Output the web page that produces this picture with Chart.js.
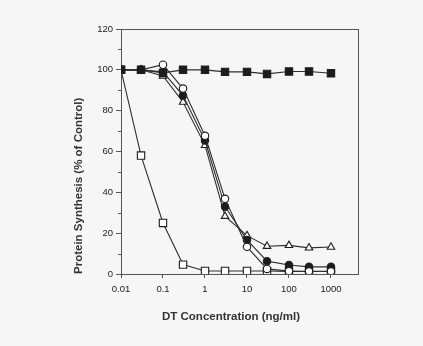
<!DOCTYPE html>
<html>
<head>
<meta charset="utf-8">
<script src="https://cdn.jsdelivr.net/npm/chart.js@4/dist/chart.umd.min.js"></script>
<style>
  html, body { margin: 0; padding: 0; background: #f6f6f6; }
  #wrap { width: 423px; height: 346px; }
</style>
</head>
<body>
<div id="wrap"><canvas id="c" width="423" height="346"></canvas></div>
<script>
// DT concentrations (ng/ml)
const concentrations = [0.01, 0.03, 0.1, 0.3, 1, 3, 10, 30, 100, 300, 1000];
// Protein synthesis (% of control)
const filledSquares   = [100, 100, 98.5, 100, 100, 99, 99, 98, 99.2, 99.2, 98.3];
const openCircles     = [100, 100, 102.5, 90.8, 67.7, 36.8, 13.3, 2.5, 1.4, 1.3, 1.3];
const filledCircles   = [100, 100, 99, 87.4, 65.4, 33, 16.7, 6.3, 4.4, 3.5, 3.5];
const openTriangles   = [100, 100, 97, 84.2, 63, 28.3, 18.8, 13.6, 14, 12.8, 13.2];
const openSquares     = [100, 58, 25, 4.6, 1.5, 1.5, 1.5, 1.5, 1.3, 1.2, 1.2];
const xTickValues = [0.01, 0.1, 1, 10, 100, 1000];
const xTickLabels = ['0.01', '0.1', '1', '10', '100', '1000'];
const yMajorTicks = [0, 20, 40, 60, 80, 100, 120];
const yMinorTicks = [10, 30, 50, 70, 90, 110];
const xTitle = 'DT Concentration (ng/ml)';
const yTitle = 'Protein Synthesis (% of Control)';

const toPts = arr => concentrations.map((x, i) => ({x: x, y: arr[i]}));
const LINE = '#2e2e2e';
const INK = '#1c1c1c';
const FONT = "'Liberation Sans', Arial, sans-serif";

function ds(label, arr, style, filled, radius) {
  return {
    label: label,
    data: toPts(arr),
    borderColor: LINE,
    borderWidth: 1.1,
    tension: 0,
    pointStyle: style,
    pointRadius: radius,
    pointHoverRadius: radius,
    pointBackgroundColor: filled ? INK : '#ffffff',
    pointBorderColor: INK,
    pointBorderWidth: 1.1
  };
}

const framePlugin = {
  id: 'frame',
  afterDraw(chart) {
    const {ctx, chartArea: a, scales} = chart;
    ctx.save();
    ctx.strokeStyle = '#555';
    ctx.lineWidth = 1;
    ctx.beginPath();
    ctx.moveTo(a.left, Math.round(a.top) + 0.5);
    ctx.lineTo(a.right, Math.round(a.top) + 0.5);
    ctx.moveTo(Math.round(a.right) + 0.5, a.top);
    ctx.lineTo(Math.round(a.right) + 0.5, a.bottom);
    // minor y ticks
    const y = scales.y;
    yMinorTicks.forEach(v => {
      const py = Math.round(y.getPixelForValue(v)) + 0.5;
      ctx.moveTo(a.left - 3, py);
      ctx.lineTo(a.left, py);
    });
    ctx.stroke();
    // x axis title
    ctx.fillStyle = '#333';
    ctx.font = 'bold 11.5px ' + FONT;
    ctx.textAlign = 'center';
    ctx.textBaseline = 'middle';
    ctx.fillText(xTitle, 231, 317);
    ctx.restore();
  }
};

new Chart(document.getElementById('c'), {
  type: 'line',
  data: {
    datasets: [
      ds('Filled squares', filledSquares, 'rect', true, 5.2),
      ds('Open circles', openCircles, 'circle', false, 3.7),
      ds('Filled circles', filledCircles, 'circle', true, 3.7),
      ds('Open triangles', openTriangles, 'triangle', false, 4.3),
      ds('Open squares', openSquares, 'rect', false, 5.2)
    ]
  },
  options: {
    responsive: false,
    animation: false,
    events: [],
    layout: { padding: { left: 0, top: 29, right: 65, bottom: 0 } },
    plugins: { legend: { display: false }, tooltip: { enabled: false } },
    scales: {
      x: {
        type: 'logarithmic',
        min: 0.01,
        max: 4400,
        afterBuildTicks(scale) { scale.ticks = xTickValues.map(v => ({value: v})); },
        afterFit(scale) { scale.height = 72; },
        ticks: {
          autoSkip: false,
          maxRotation: 0,
          padding: 6,
          color: '#222',
          font: { family: FONT, size: 9.5 },
          callback(value) {
            const i = xTickValues.indexOf(value);
            return i >= 0 ? xTickLabels[i] : '';
          }
        },
        grid: { drawOnChartArea: false, tickLength: 4, color: '#555' },
        border: { color: '#555', width: 1 },
        title: { display: false }
      },
      y: {
        min: 0,
        max: 120,
        afterBuildTicks(scale) { scale.ticks = yMajorTicks.map(v => ({value: v})); },
        afterFit(scale) { scale.width = 121; },
        ticks: {
          padding: 3,
          color: '#222',
          font: { family: FONT, size: 9.5 }
        },
        grid: { drawOnChartArea: false, tickLength: 5, color: '#555' },
        border: { color: '#555', width: 1 },
        title: {
          display: true,
          text: yTitle,
          align: 'start',
          color: '#333',
          font: { family: FONT, size: 11.5, weight: 'bold' },
          padding: { top: 71.5, bottom: 0 }
        }
      }
    }
  },
  plugins: [framePlugin]
});
</script>
</body>
</html>
